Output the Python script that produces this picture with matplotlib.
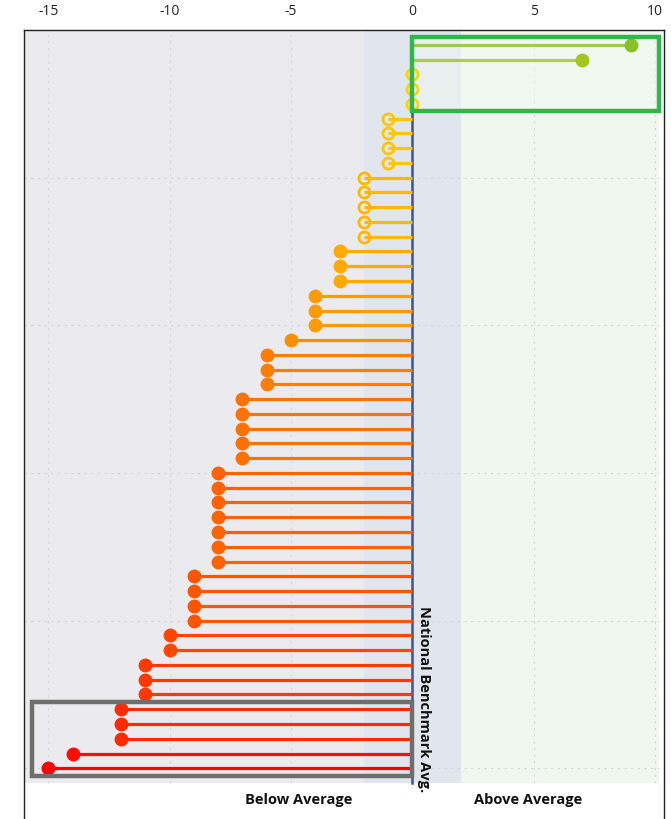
import numpy as np
import matplotlib.pyplot as plt
from matplotlib.colors import LinearSegmentedColormap, TwoSlopeNorm
from matplotlib.patches import Rectangle

plt.rcParams['font.family'] = ['Open Sans', 'DejaVu Sans']

# score difference vs national benchmark, top row first
values = [9, 7, 0, 0, 0, -1, -1, -1, -1, -2, -2, -2, -2, -2,
          -3, -3, -3, -4, -4, -4, -5, -6, -6, -6,
          -7, -7, -7, -7, -7, -8, -8, -8, -8, -8, -8, -8,
          -9, -9, -9, -9, -10, -10, -11, -11, -11,
          -12, -12, -12, -14, -15]
hollow_range = (-2, 0)  # these values drawn as open circles
xticks = [-15, -10, -5, 0, 5, 10]
label_below = 'Below Average'
label_above = 'Above Average'
label_line = 'National Benchmark Avg.'

n = len(values)
ypos = np.arange(n)[::-1]  # top row at highest y

cmap = LinearSegmentedColormap.from_list(
    'score', [(0.0, '#ff0000'), (0.5, '#ffd400'), (1.0, '#7cbf2a')])
norm = TwoSlopeNorm(vmin=-15, vcenter=0, vmax=10)

fig = plt.figure(figsize=(6.71, 8.19), dpi=100)
ax = fig.add_axes([24 / 671, 0, 640 / 671, 1 - 30 / 819])

xmin, xmax = -16.0, 10.37
ytop = n
ybot = -1 - 36 / 14.78

# background zones
ax.add_patch(Rectangle((xmin, -1), -2 - xmin, n + 1, color='#ebebef', zorder=0, lw=0))
ax.add_patch(Rectangle((-2, -1), 4, n + 1, color='#e1e5ee', zorder=0, lw=0))
ax.add_patch(Rectangle((2, -1), 8.15, n + 1, color='#f0f7ee', zorder=0, lw=0))

# grid
for t in xticks:
    ax.plot([t, t], [-1, n], ls=(0, (2, 4)), color='#d6d6da', lw=0.8, zorder=1)
for gy in [0, 10, 20, 30, 40]:
    ax.plot([xmin, 10.15], [gy, gy], ls=(0, (2, 4)), color='#d6d6da', lw=0.8, zorder=1)

# benchmark line
ax.plot([0, 0], [-1, n - 5], color='#3b5494', lw=1.8, zorder=2)

for v, y in zip(values, ypos):
    c = cmap(norm(v))
    if v != 0:
        ax.plot([0, v], [y, y], color=c, lw=2.3, alpha=0.8 if v > 0 else 1, zorder=3,
                solid_capstyle='butt')
    if hollow_range[0] <= v <= hollow_range[1]:
        ax.plot(v, y, 'o', ms=8.0, mfc='none', mec=c, mew=2.0, zorder=4)
    else:
        ax.plot(v, y, 'o', ms=9.0, color=c, zorder=4)

# highlight boxes
ax.add_patch(Rectangle((0, n - 5 - 0.5), 10.15, 5.05, fill=True, fc='#f2f9f0', alpha=0.5,
                       ec='none', zorder=2))
ax.add_patch(Rectangle((0, n - 5 - 0.5), 10.15, 5.05, fill=False, ec='#2fb74c', lw=3.2, zorder=5))
ax.add_patch(Rectangle((-15.68, -0.55), 15.68, 5.05, fill=False, ec='#6e6e6e', lw=3.2, zorder=5))

ax.text(0.2, 10.98, label_line, rotation=-90, ha='left', va='top',
        fontsize=10.5, fontweight='bold', color='#111111', zorder=6)
ax.text(-4.7, -2.15, label_below, ha='center', va='center', fontsize=10.5,
        fontweight='bold', color='#111111')
ax.text(4.77, -2.15, label_above, ha='center', va='center', fontsize=10.5,
        fontweight='bold', color='#111111')

ax.set_xlim(xmin, xmax)
ax.set_ylim(ybot, ytop)
ax.xaxis.tick_top()
ax.set_xticks(xticks)
ax.set_xticklabels([str(t) for t in xticks])
ax.tick_params(axis='x', length=0, pad=8, labelsize=10, colors='#222222')
ax.set_yticks([])
ax.spines['bottom'].set_visible(False)
for s in ['top', 'left', 'right']:
    ax.spines[s].set_color('#222222')
    ax.spines[s].set_linewidth(1.0)

fig.savefig('out.png', dpi=100)
